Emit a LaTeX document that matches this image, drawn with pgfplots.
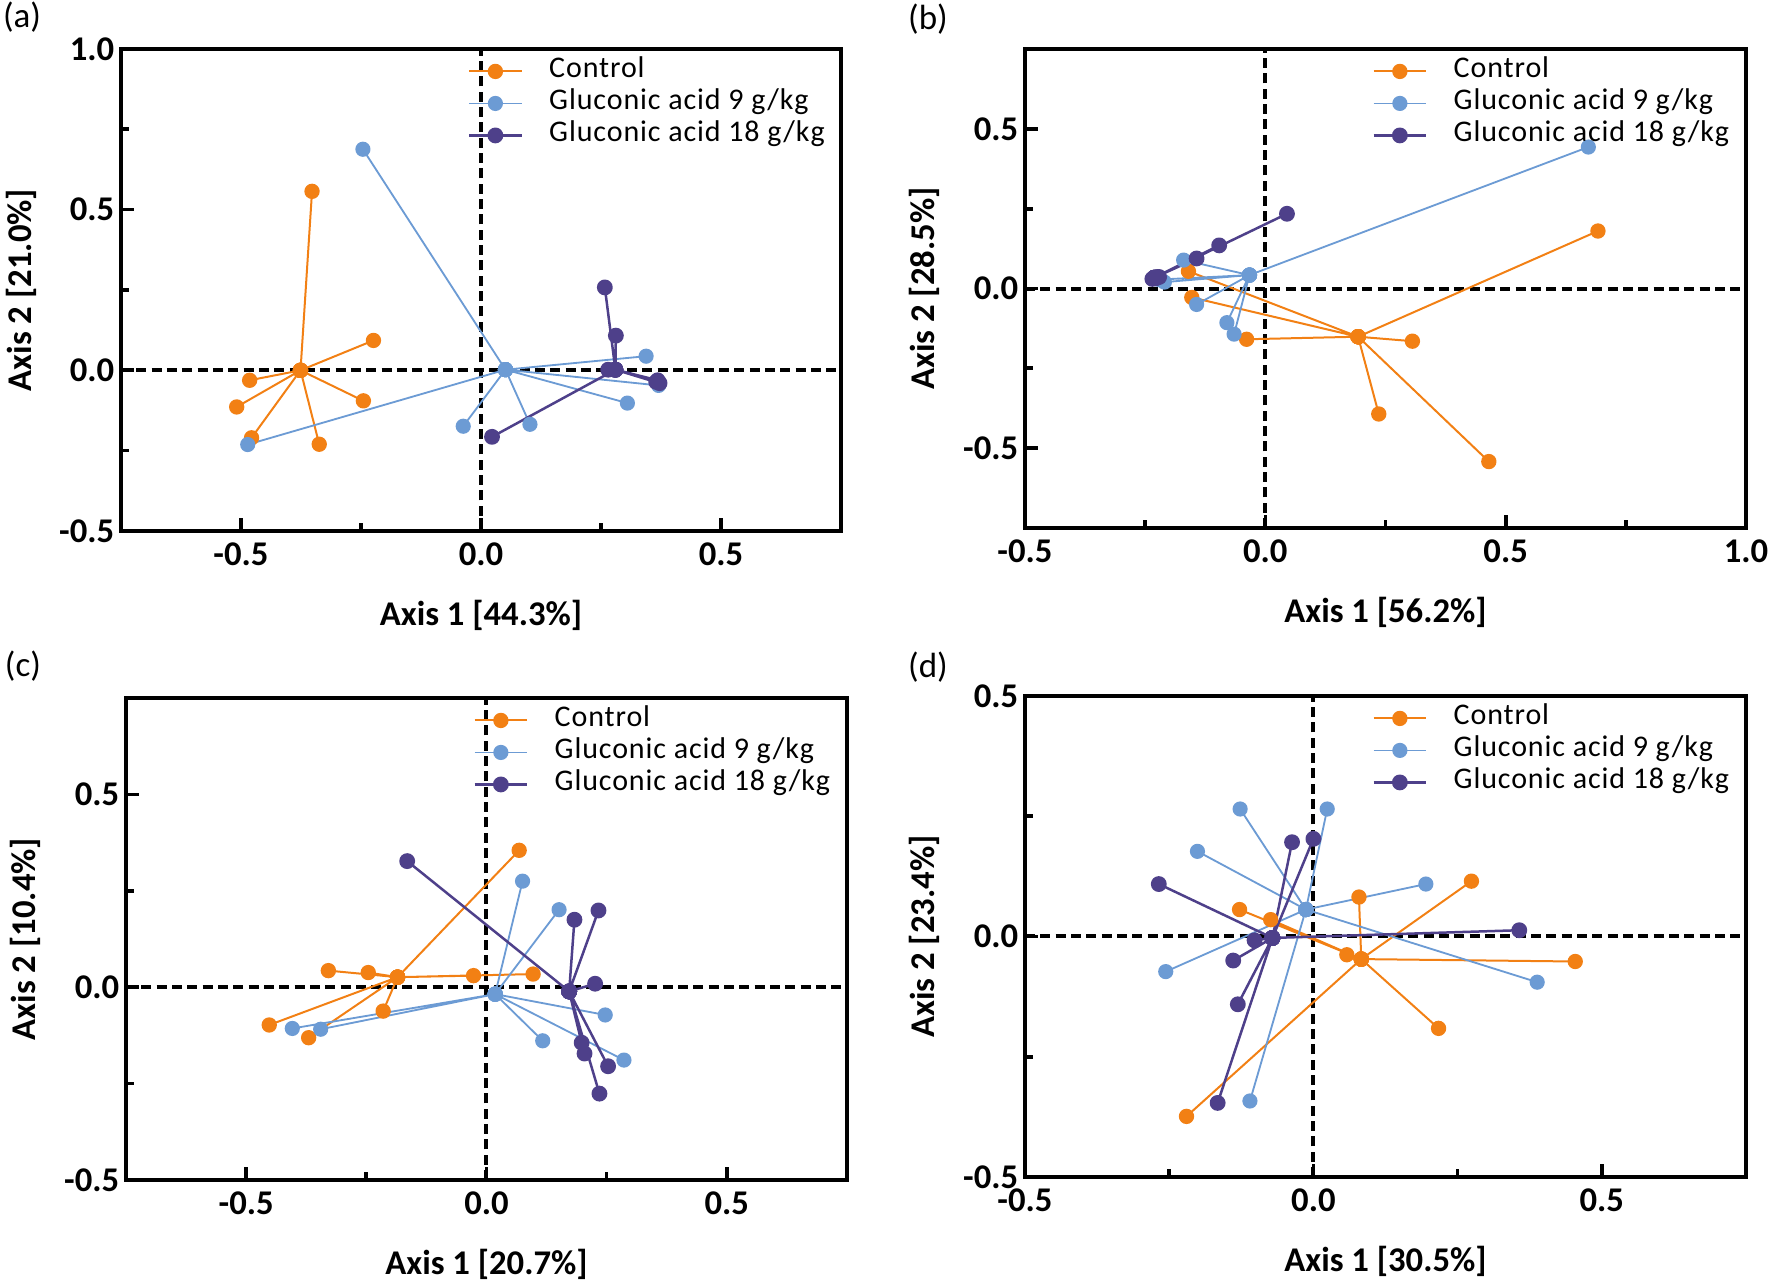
\documentclass[border=0pt]{standalone}
\usepackage{pgfplots}
\pgfplotsset{compat=1.18}
\usepackage{fontspec}
\setmainfont{Carlito}
\newfontfamily\legfont[LetterSpace=3]{Carlito}
\definecolor{cctrl}{RGB}{242,128,20}
\definecolor{cgA}{RGB}{108,155,212}
\definecolor{cgB}{RGB}{78,64,138}
\tikzset{zl/.style={black, line width=1.2pt, dash pattern=on 3pt off 1.6pt}}
\pgfplotsset{
 pcoa/.style={
  scale only axis, width=216pt, height=144.6pt,
  axis line style={line width=1.3pt},
  every tick/.style={black, line width=1.1pt},
  tick align=inside, xtick pos=bottom, ytick pos=left,
  major tick length=4pt, minor tick length=2.5pt,
  ticklabel style={font=\fontsize{10.4}{12}\selectfont\bfseries},
  yticklabel style={xshift=1.5pt},
  label style={font=\fontsize{10.4}{12}\selectfont\bfseries},
  xlabel style={at={(axis description cs:0.5,-0.176)}, anchor=center},
  ylabel style={at={(axis description cs:-0.139,0.5)}, anchor=center},
  legend style={draw=none, fill=none, at={(0.481,0.988)}, anchor=north west,
    inner sep=0pt, font=\legfont\fontsize{9}{11}\selectfont, row sep=0pt,
    nodes={inner sep=1.2pt, text height=5.5pt, text depth=1.7pt}},
  legend cell align=left,
  legend image code/.code={\draw[mark repeat=2,mark phase=2] plot coordinates {(0pt,0pt) (7.85pt,0pt) (15.7pt,0pt)};
     \path[draw=none, fill=none] (22.8pt,0pt) circle[radius=0pt];},
 },
 ctrl/.style={color=cctrl, line width=0.6pt, line join=round, mark=*, mark size=2pt, mark options={solid, fill=cctrl, draw=cctrl}},
 gA/.style={color=cgA, line width=0.55pt, line join=round, mark=*, mark size=2pt, mark options={solid, fill=cgA, draw=cgA}},
 gB/.style={color=cgB, line width=0.75pt, line join=round, mark=*, mark size=2pt, mark options={solid, fill=cgB, draw=cgB}},
}
\begin{document}
\begin{tikzpicture}
\useasboundingbox (0,0) rectangle (531pt,-384.3pt);
% (a)
\begin{axis}[pcoa, at={(36.3pt,-159.3pt)}, anchor=south west,
  xmin=-0.75, xmax=0.75, ymin=-0.5, ymax=1.0,
  xtick={-0.5,0,0.5}, xticklabels={-0.5,0.0,0.5}, minor xtick={-0.25,0.25},
  ytick={-0.5,0,0.5,1.0}, yticklabels={-0.5,0.0,0.5,1.0}, minor ytick={-0.25,0.25,0.75},
  xlabel={Axis 1 [44.3\%]}, ylabel={Axis 2 [21.0\%]}]
\draw[zl] (axis cs:0,-0.5) -- (axis cs:0,1.0);
\draw[zl] (axis cs:-0.75,0) -- (axis cs:0.75,0);
\addplot[ctrl] coordinates {(-0.376,0) (-0.352,0.557) (-0.376,0) (-0.224,0.093) (-0.376,0) (-0.482,-0.031) (-0.376,0) (-0.245,-0.095) (-0.376,0) (-0.509,-0.114) (-0.376,0) (-0.478,-0.210) (-0.376,0) (-0.337,-0.230)};
\addplot[gA] coordinates {(0.051,0.002) (-0.246,0.688) (0.051,0.002) (-0.486,-0.231) (0.051,0.002) (-0.037,-0.174) (0.051,0.002) (0.102,-0.168) (0.051,0.002) (0.344,0.044) (0.051,0.002) (0.305,-0.102) (0.051,0.002) (0.370,-0.047)};
\addplot[gB] coordinates {(0.280,0.002) (0.258,0.258) (0.280,0.002) (0.281,0.108) (0.280,0.002) (0.023,-0.207) (0.280,0.002) (0.368,-0.031) (0.280,0.002) (0.372,-0.040) (0.280,0.002) (0.365,-0.036) (0.280,0.002) (0.265,0.002)};
\legend{Control, Gluconic acid 9 g/kg, Gluconic acid 18 g/kg}
\end{axis}
% (b)
\begin{axis}[pcoa, at={(307.5pt,-158.4pt)}, anchor=south west, width=216.3pt, height=143.7pt,
  xmin=-0.5, xmax=1.0, ymin=-0.75, ymax=0.75,
  xtick={-0.5,0,0.5,1.0}, xticklabels={-0.5,0.0,0.5,1.0}, minor xtick={-0.25,0.25,0.75},
  ytick={-0.5,0,0.5}, yticklabels={-0.5,0.0,0.5}, minor ytick={-0.25,0.25},
  xlabel={Axis 1 [56.2\%]}, ylabel={Axis 2 [28.5\%]}]
\draw[zl] (axis cs:0,-0.75) -- (axis cs:0,0.75);
\draw[zl] (axis cs:-0.5,0) -- (axis cs:1.0,0);
\addplot[ctrl] coordinates {(0.193,-0.151) (0.692,0.180) (0.193,-0.151) (0.306,-0.165) (0.193,-0.151) (0.236,-0.393) (0.193,-0.151) (0.465,-0.542) (0.193,-0.151) (-0.039,-0.159) (0.193,-0.151) (-0.160,0.054) (0.193,-0.151) (-0.153,-0.028)};
\addplot[gA] coordinates {(-0.033,0.042) (0.672,0.443) (-0.033,0.042) (-0.170,0.089) (-0.033,0.042) (-0.221,0.028) (-0.033,0.042) (-0.143,-0.050) (-0.033,0.042) (-0.080,-0.107) (-0.033,0.042) (-0.065,-0.143) (-0.033,0.042) (-0.210,0.020)};
\addplot[gB] coordinates {(-0.231,0.034) (0.045,0.234) (-0.231,0.034) (-0.096,0.135) (-0.231,0.034) (-0.143,0.094) (-0.231,0.034) (-0.225,0.036) (-0.231,0.034) (-0.235,0.030) (-0.231,0.034) (-0.221,0.036) (-0.231,0.034) (-0.228,0.032)};
\legend{Control, Gluconic acid 9 g/kg, Gluconic acid 18 g/kg}
\end{axis}
% (c)
\begin{axis}[pcoa, at={(37.8pt,-354pt)}, anchor=south west, width=216.3pt, height=144.6pt,
  xmin=-0.75, xmax=0.75, ymin=-0.5, ymax=0.75,
  xtick={-0.5,0,0.5}, xticklabels={-0.5,0.0,0.5}, minor xtick={-0.25,0.25},
  ytick={-0.5,0,0.5}, yticklabels={-0.5,0.0,0.5}, minor ytick={-0.25,0.25},
  xlabel={Axis 1 [20.7\%]}, ylabel={Axis 2 [10.4\%]}]
\draw[zl] (axis cs:0,-0.5) -- (axis cs:0,0.75);
\draw[zl] (axis cs:-0.75,0) -- (axis cs:0.75,0);
\addplot[ctrl] coordinates {(-0.185,0.026) (0.068,0.355) (-0.185,0.026) (0.097,0.034) (-0.185,0.026) (-0.027,0.030) (-0.185,0.026) (-0.246,0.038) (-0.185,0.026) (-0.329,0.043) (-0.185,0.026) (-0.215,-0.062) (-0.185,0.026) (-0.452,-0.098) (-0.185,0.026) (-0.370,-0.131)};
\addplot[gA] coordinates {(0.018,-0.018) (0.075,0.275) (0.018,-0.018) (0.151,0.201) (0.018,-0.018) (0.247,-0.072) (0.018,-0.018) (0.117,-0.139) (0.018,-0.018) (0.286,-0.189) (0.018,-0.018) (-0.345,-0.109) (0.018,-0.018) (-0.404,-0.107)};
\addplot[gB] coordinates {(0.172,-0.011) (-0.165,0.327) (0.172,-0.011) (0.183,0.175) (0.172,-0.011) (0.233,0.199) (0.172,-0.011) (0.226,0.009) (0.172,-0.011) (0.198,-0.144) (0.172,-0.011) (0.204,-0.172) (0.172,-0.011) (0.253,-0.205) (0.172,-0.011) (0.235,-0.276)};
\legend{Control, Gluconic acid 9 g/kg, Gluconic acid 18 g/kg}
\end{axis}
% (d)
\begin{axis}[pcoa, at={(307.5pt,-353.1pt)}, anchor=south west, width=216.3pt, height=144.3pt,
  xmin=-0.5, xmax=0.75, ymin=-0.5, ymax=0.5,
  xtick={-0.5,0,0.5}, xticklabels={-0.5,0.0,0.5}, minor xtick={-0.25,0.25},
  ytick={-0.5,0,0.5}, yticklabels={-0.5,0.0,0.5}, minor ytick={-0.25,0.25},
  xlabel={Axis 1 [30.5\%]}, ylabel={Axis 2 [23.4\%]}]
\draw[zl] (axis cs:0,-0.5) -- (axis cs:0,0.5);
\draw[zl] (axis cs:-0.5,0) -- (axis cs:0.75,0);
\addplot[ctrl] coordinates {(0.083,-0.047) (0.274,0.115) (0.083,-0.047) (0.079,0.082) (0.083,-0.047) (0.454,-0.052) (0.083,-0.047) (0.217,-0.191) (0.083,-0.047) (-0.220,-0.374) (0.083,-0.047) (0.058,-0.038) (0.083,-0.047) (-0.074,0.035) (0.083,-0.047) (-0.128,0.056)};
\addplot[gA] coordinates {(-0.013,0.056) (-0.127,0.265) (-0.013,0.056) (0.024,0.265) (-0.013,0.056) (-0.201,0.177) (-0.013,0.056) (0.195,0.109) (-0.013,0.056) (-0.256,-0.073) (-0.013,0.056) (0.388,-0.095) (-0.013,0.056) (-0.110,-0.342)};
\addplot[gB] coordinates {(-0.071,-0.003) (-0.037,0.196) (-0.071,-0.003) (0.000,0.203) (-0.071,-0.003) (-0.268,0.109) (-0.071,-0.003) (0.357,0.013) (-0.071,-0.003) (-0.102,-0.008) (-0.071,-0.003) (-0.139,-0.050) (-0.071,-0.003) (-0.131,-0.141) (-0.071,-0.003) (-0.166,-0.346)};
\legend{Control, Gluconic acid 9 g/kg, Gluconic acid 18 g/kg}
\end{axis}
\node[font=\fontsize{10.5}{12}\selectfont] at (6.6pt,-5.1pt) {(a)};
\node[font=\fontsize{10.5}{12}\selectfont] at (278.4pt,-5.7pt) {(b)};
\node[font=\fontsize{10.5}{12}\selectfont] at (6.9pt,-199.8pt) {(c)};
\node[font=\fontsize{10.5}{12}\selectfont] at (278.4pt,-200.1pt) {(d)};
\end{tikzpicture}
\end{document}
